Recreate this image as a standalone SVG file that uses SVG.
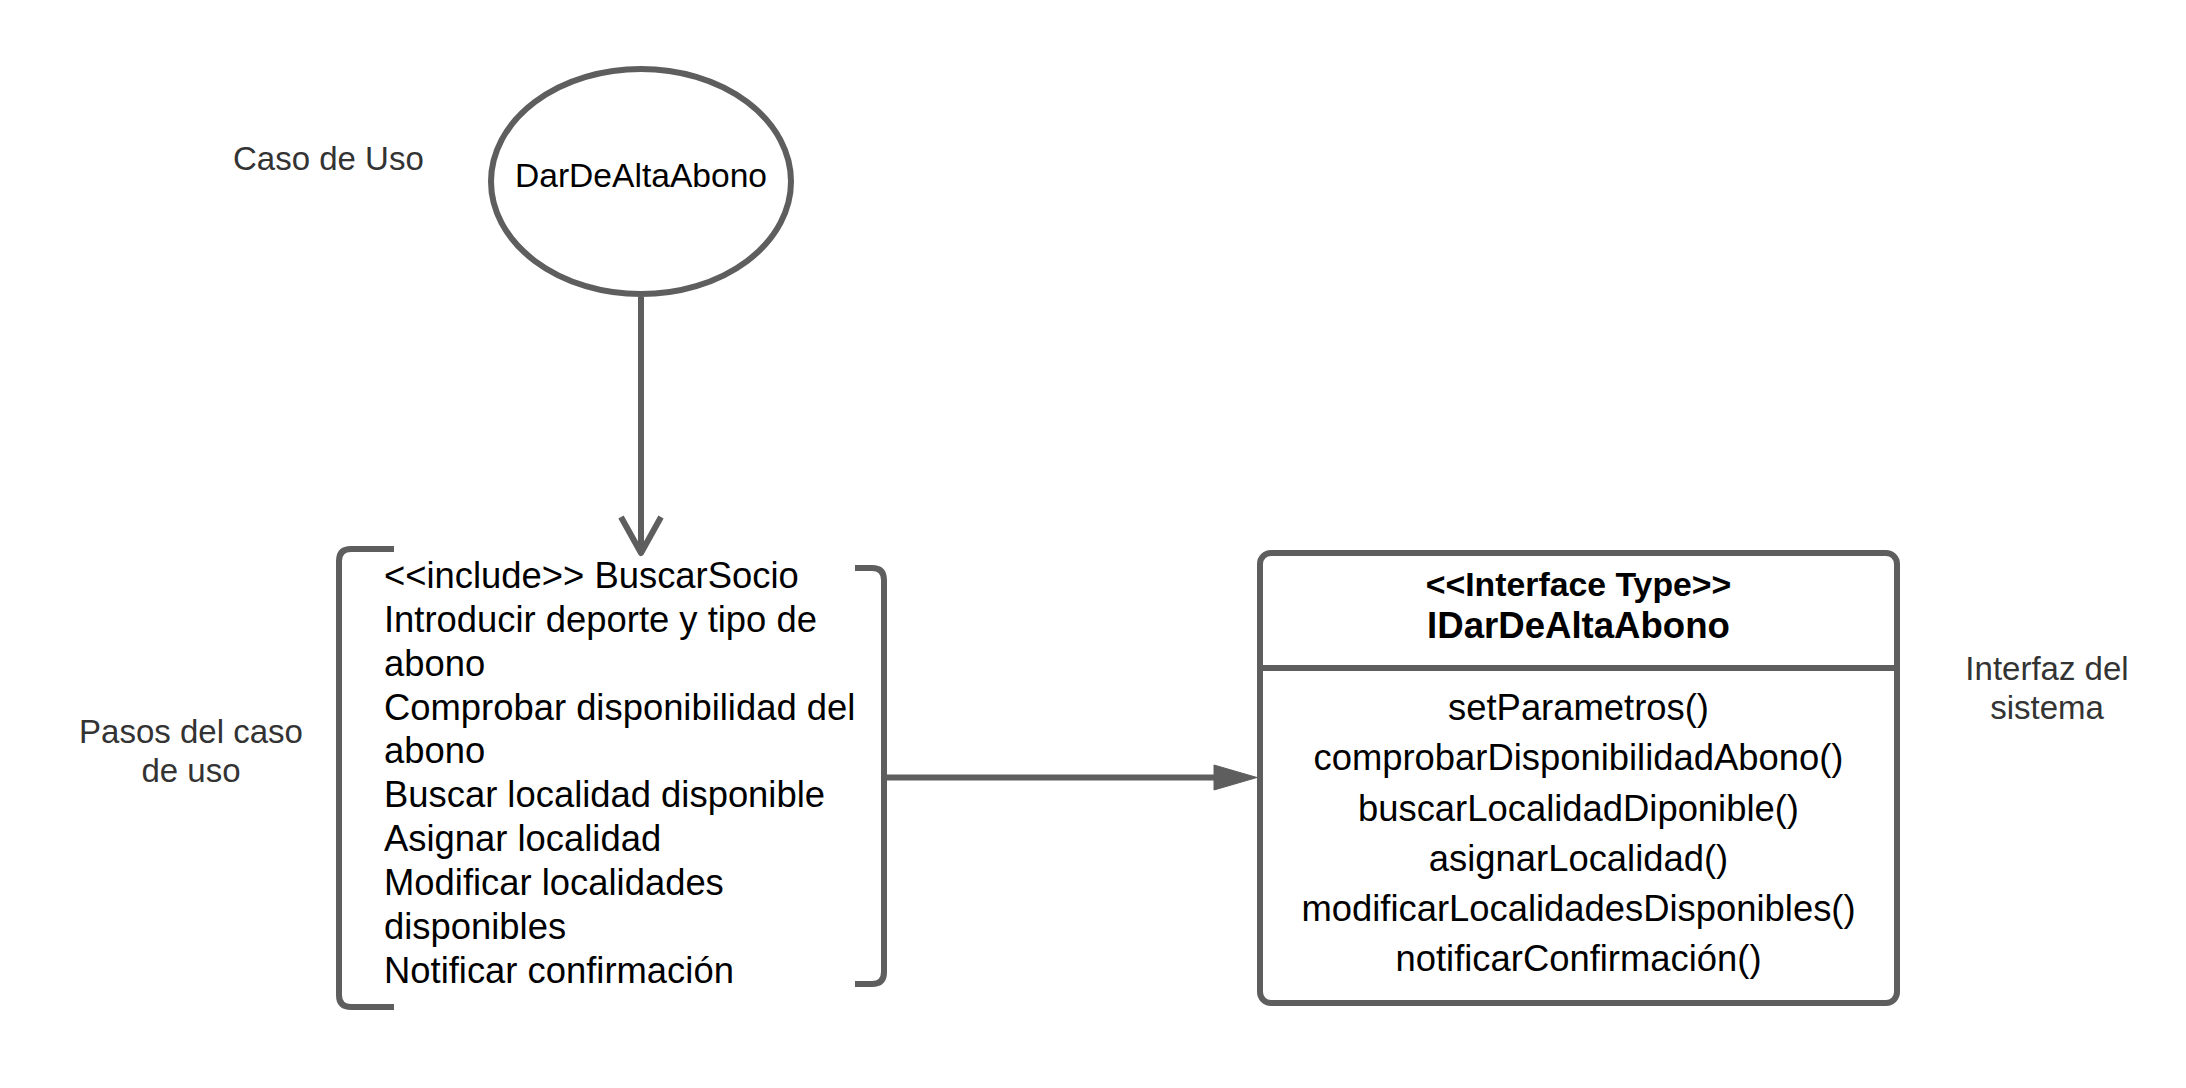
<svg xmlns="http://www.w3.org/2000/svg" width="2186" height="1088" viewBox="0 0 2186 1088">
<style>
.ln{fill:none;stroke:#5e5e5e;stroke-width:6;stroke-linecap:butt;stroke-linejoin:round}
.shape{fill:#ffffff;stroke:#5e5e5e;stroke-width:6}
.note{font-family:"Liberation Sans",Arial,sans-serif;font-size:33px;fill:#333333}
.txt{font-family:"Liberation Sans",Arial,sans-serif;font-size:36.4px;fill:#000000}
.bold{font-family:"Liberation Sans",Arial,sans-serif;font-weight:bold;fill:#000000}
</style>
<rect width="2186" height="1088" fill="#ffffff"/>
<g id="label-caso-de-uso">
<text class="note" x="233" y="170">Caso de Uso</text>
</g>
<g id="label-pasos">
<text class="note" x="191" y="743" text-anchor="middle">Pasos del caso</text>
<text class="note" x="191" y="782" text-anchor="middle">de uso</text>
</g>
<g id="label-interfaz">
<text class="note" x="2047" y="680" text-anchor="middle">Interfaz del</text>
<text class="note" x="2047" y="719" text-anchor="middle">sistema</text>
</g>
<g id="node-usecase">
<ellipse class="shape" cx="641" cy="181.5" rx="150" ry="112.5"/>
<text class="txt" style="font-size:33.6px" x="641" y="187" text-anchor="middle">DarDeAltaAbono</text>
</g>
<g id="node-pasos">
<path class="ln" d="M394,549 H351 Q339,549 339,561 V995 Q339,1007 351,1007 H394"/>
<path class="ln" d="M855,568 H872 Q884,568 884,580 V972 Q884,984 872,984 H855"/>
<text class="txt" x="384">
<tspan x="384" y="588">&lt;&lt;include&gt;&gt; BuscarSocio</tspan>
<tspan x="384" y="631.5">Introducir deporte y tipo de</tspan>
<tspan x="384" y="675.5">abono</tspan>
<tspan x="384" y="719.5">Comprobar disponibilidad del</tspan>
<tspan x="384" y="763">abono</tspan>
<tspan x="384" y="807">Buscar localidad disponible</tspan>
<tspan x="384" y="851">Asignar localidad</tspan>
<tspan x="384" y="895">Modificar localidades</tspan>
<tspan x="384" y="938.5">disponibles</tspan>
<tspan x="384" y="982.5">Notificar confirmación</tspan>
</text>
</g>
<g id="node-interface">
<rect class="shape" x="1260" y="553" width="637" height="450" rx="11" ry="11"/>
<line class="ln" x1="1260" y1="668" x2="1897" y2="668"/>
<text class="bold" style="font-size:33.8px" x="1578.5" y="596" text-anchor="middle">&lt;&lt;Interface Type&gt;&gt;</text>
<text class="bold" style="font-size:36.6px" x="1578.5" y="638" text-anchor="middle">IDarDeAltaAbono</text>
<g class="txt" text-anchor="middle">
<text x="1578.5" y="720">setParametros()</text>
<text x="1578.5" y="770">comprobarDisponibilidadAbono()</text>
<text x="1578.5" y="820.5">buscarLocalidadDiponible()</text>
<text x="1578.5" y="870.5">asignarLocalidad()</text>
<text x="1578.5" y="921">modificarLocalidadesDisponibles()</text>
<text x="1578.5" y="971">notificarConfirmación()</text>
</g>
</g>
<g id="connectors">
<line class="ln" x1="641" y1="297" x2="641" y2="551"/>
<polyline class="ln" points="621,517 641,553 661,517" stroke-linejoin="miter"/>
<line class="ln" x1="884" y1="777.5" x2="1216" y2="777.5"/>
<polygon points="1214,765 1257,777.5 1214,790" fill="#5e5e5e" stroke="#5e5e5e" stroke-width="1"/>
</g>
</svg>
